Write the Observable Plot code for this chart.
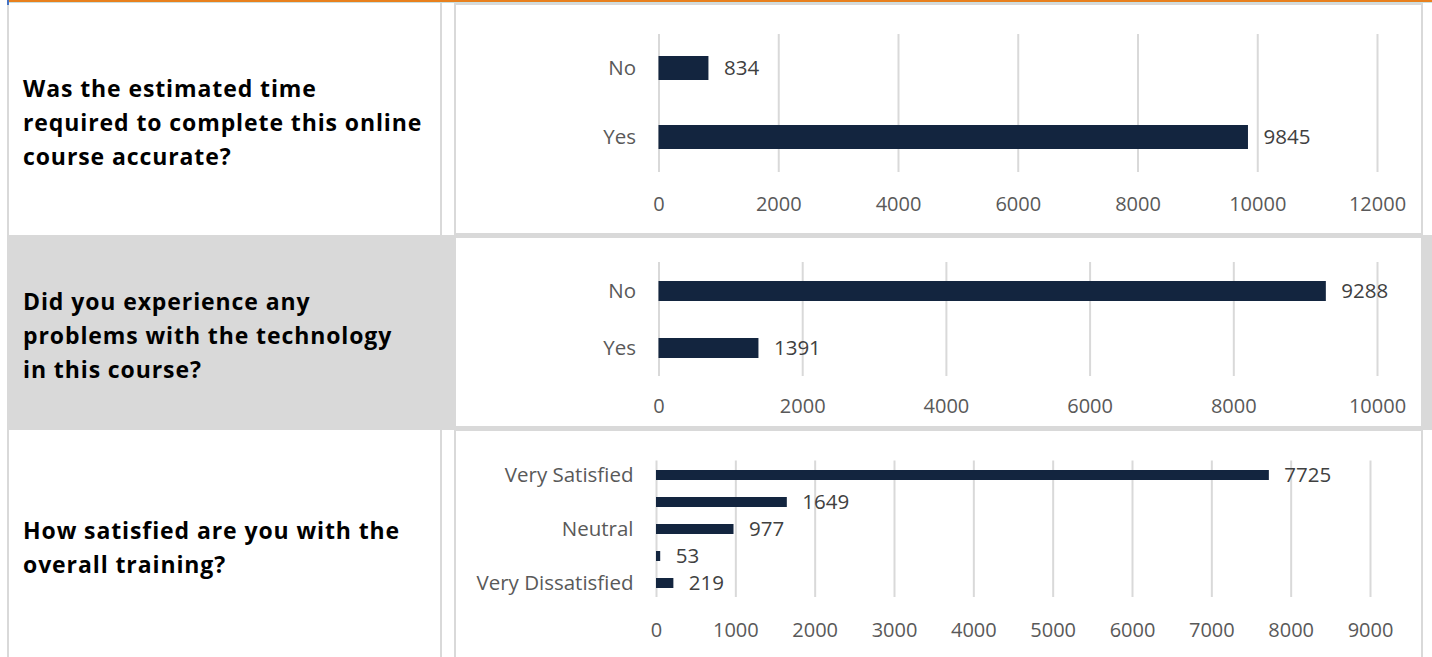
<!DOCTYPE html>
<html>
<head>
<meta charset="utf-8">
<script src="https://cdn.jsdelivr.net/npm/d3@7"></script>
<script src="https://cdn.jsdelivr.net/npm/@observablehq/plot@0.6"></script>
<style>
  html, body { margin: 0; padding: 0; background: #fff; }
  body { width: 1432px; height: 657px; position: relative; overflow: hidden; }
  .abs { position: absolute; }
  .q { position: absolute; left: 23px; font-family: "Open Sans", sans-serif; font-weight: 700; font-size: 23px; letter-spacing: 0.9px; line-height: 34px; color: #000; white-space: nowrap; }
  .box { position: absolute; box-sizing: border-box; border: 2px solid #d9d9d9; background: #fff; }
  .chart { position: absolute; }
  .chart svg { display: block; max-width: none; }
</style>
</head>
<body>
<script>
// ---- data ----
const q1Question = ["Was the estimated time", "required to complete this online", "course accurate?"];
const q1Categories = ["No", "Yes"];
const q1Values = [834, 9845];
const q1XTicks = [0, 2000, 4000, 6000, 8000, 10000, 12000];

const q2Question = ["Did you experience any", "problems with the technology", "in this course?"];
const q2Categories = ["No", "Yes"];
const q2Values = [9288, 1391];
const q2XTicks = [0, 2000, 4000, 6000, 8000, 10000];

const q3Question = ["How satisfied are you with the", "overall training?"];
const q3Categories = ["Very Satisfied", "Satisfied", "Neutral", "Dissatisfied", "Very Dissatisfied"];
const q3Values = [7725, 1649, 977, 53, 219];
const q3YTickLabels = ["Very Satisfied", "Neutral", "Very Dissatisfied"];
const q3XTicks = [0, 1000, 2000, 3000, 4000, 5000, 6000, 7000, 8000, 9000];

// ---- layout frame ----
const body = document.body;
function rect(l, t, w, h, color) {
  const d = document.createElement("div");
  d.className = "abs";
  Object.assign(d.style, {left: l + "px", top: t + "px", width: w + "px", height: h + "px", background: color});
  body.appendChild(d);
  return d;
}
rect(9, 235, 1423, 195, "#d9d9d9");
rect(9, 0, 1423, 2, "#e8801e");
rect(9, 2, 1423, 1, "#c9dfe0");
rect(7, 0, 2, 5, "#4472c4");
rect(7, 5, 2, 652, "#d9d9d9");
rect(440, 3, 2, 232, "#d9d9d9");
rect(440, 430, 2, 227, "#d9d9d9");

function question(lines, top) {
  const d = document.createElement("div");
  d.className = "q";
  d.style.top = top + "px";
  lines.forEach((ln, i) => {
    if (i) d.appendChild(document.createElement("br"));
    d.appendChild(document.createTextNode(ln));
  });
  body.appendChild(d);
}
question(q1Question, 71);
question(q2Question, 284);
question(q3Question, 513);

function box(l, t, w, h) {
  const d = document.createElement("div");
  d.className = "box";
  Object.assign(d.style, {left: l + "px", top: t + "px", width: w + "px", height: h + "px"});
  body.appendChild(d);
}
box(454, 3, 969, 232);
box(454, 236, 969, 192);
box(454, 429, 969, 240);

function chart(cfg) {
  const data = cfg.cats.map((c, i) => ({cat: c, value: cfg.vals[i]}));
  const p = Plot.plot({
    width: cfg.width, height: cfg.height,
    marginLeft: cfg.ml, marginRight: cfg.mr, marginTop: cfg.mt, marginBottom: cfg.mb,
    style: {fontFamily: "'Open Sans', sans-serif", fontSize: "20px", color: "#595959", background: "transparent", overflow: "visible"},
    x: {domain: [0, cfg.xTicks[cfg.xTicks.length - 1]], axis: null},
    y: {domain: cfg.cats, paddingInner: cfg.pad, paddingOuter: cfg.pad / 2, axis: null},
    marks: [
      Plot.ruleX(cfg.xTicks, {stroke: "#d9d9d9", strokeWidth: 2}),
      Plot.barX(data, {x: "value", y: "cat", fill: "#13253f"}),
      Plot.text(data, {x: "value", y: "cat", text: d => String(d.value), dx: 15, textAnchor: "start", fill: "#404040", fontSize: 20.5}),
      Plot.axisX(cfg.xTicks, {tickSize: 0, tickPadding: cfg.xPad, tickFormat: d => String(d), fill: "#595959", label: null}),
      Plot.axisY(cfg.yTicks, {tickSize: 0, tickPadding: 23, fill: "#595959", label: null, fontSize: 20.5})
    ]
  });
  const wrap = document.createElement("div");
  wrap.className = "chart";
  Object.assign(wrap.style, {left: cfg.left + "px", top: cfg.top + "px", width: cfg.width + "px", height: cfg.height + "px"});
  wrap.appendChild(p);
  body.appendChild(wrap);
}

chart({cats: q1Categories, vals: q1Values, xTicks: q1XTicks, yTicks: q1Categories,
  left: 456, top: 5, width: 965, height: 228, ml: 202.5, mr: 44, mt: 29, mb: 61, xPad: 24, pad: 0.65});
chart({cats: q2Categories, vals: q2Values, xTicks: q2XTicks, yTicks: q2Categories,
  left: 456, top: 237, width: 965, height: 190, ml: 202.5, mr: 44, mt: 25, mb: 51, xPad: 22, pad: 0.65});
chart({cats: q3Categories, vals: q3Values, xTicks: q3XTicks, yTicks: q3YTickLabels,
  left: 456, top: 431, width: 965, height: 226, ml: 200, mr: 51, mt: 29.5, mb: 60, xPad: 25, pad: 0.634});
</script>
</body>
</html>
